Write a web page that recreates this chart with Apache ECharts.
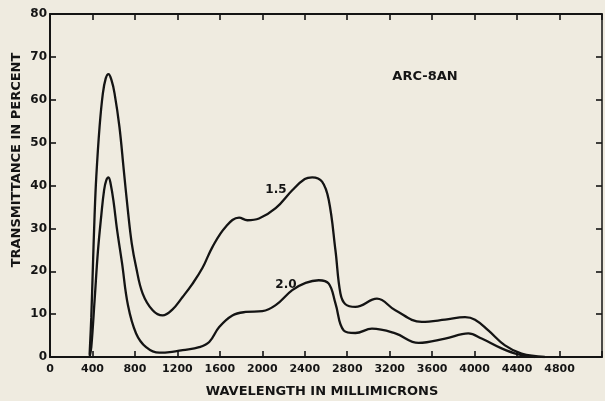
<!DOCTYPE html>
<html>
<head>
<meta charset="utf-8">
<script src="https://cdn.jsdelivr.net/npm/echarts@6/dist/echarts.min.js"></script>
<style>
html,body{margin:0;padding:0;background:#efebe0;}
#c{width:605px;height:401px;}
</style>
</head>
<body>
<div id="c"></div>
<script>
// Wavelength (millimicrons) vs transmittance (%) for ARC-8AN, two thicknesses
const curve15 = [
  [373,0.5],[389,9.3],[404,21],[420,33],[436,42],[467,53.7],[498,61.5],[525,65],[551,66],
  [580,64.5],[608,61.5],[654,53.7],[695,43.6],[733,34.3],[770,26.5],[811,21],[873,14.8],
  [967,10.9],[1061,9.7],[1150,11],[1249,14],[1340,17],[1437,20.8],[1531,25.7],[1656,30.4],
  [1781,32.5],[1859,31.9],[1969,32.3],[2126,34.7],[2282,38.9],[2400,41.5],[2470,41.9],
  [2563,40.9],[2626,36.6],[2689,24.9],[2736,14.8],[2783,12.3],[2877,11.7],[3080,13.6],
  [3253,10.9],[3502,8.2],[3722,8.7],[3910,9.3],[4004,8.7],[4129,6.2],[4286,2.7],[4442,0.8],[4661,0]
];
const curve20 = [
  [373,0],[389,2.3],[420,13.2],[451,24.5],[483,33],[510,39],[530,41.2],[551,41.9],
  [572,40.3],[600,36],[630,30],[678,22],[735,12],[811,5.5],[905,2.3],[1030,1],
  [1150,1.2],[1249,1.6],[1406,2.3],[1500,3.5],[1594,7],[1718,9.7],[1844,10.5],[2000,10.7],
  [2126,12.1],[2282,15.6],[2408,17.3],[2532,17.9],[2626,17.1],[2689,12.5],[2767,6.2],
  [2877,5.6],[3033,6.6],[3253,5.5],[3472,3.3],[3722,4.3],[3941,5.5],[4066,4.3],[4254,2],
  [4411,0.6],[4567,0]
];
const xTicks = [0,400,800,1200,1600,2000,2400,2800,3200,3600,4000,4400,4800];
const yTicks = [0,10,20,30,40,50,60,70,80];
const curveLabels = ['1.5','2.0'];
const title = 'ARC-8AN';
const xName = 'WAVELENGTH IN MILLIMICRONS';
const yName = 'TRANSMITTANCE IN PERCENT';

const ink = '#141414';
const font = 'DejaVu Sans';
const chart = echarts.init(document.getElementById('c'));
function ax(extra, lineW){
  return Object.assign({
    type:'value', splitLine:{show:false},
    axisLine:{onZero:false,lineStyle:{color:ink,width:lineW}},
    axisTick:{inside:true,length:6,lineStyle:{color:ink,width:1.6}}
  }, extra);
}
chart.setOption({
  backgroundColor:'#efebe0',
  animation:false,
  grid:{left:50,right:2,top:14,bottom:44},
  xAxis:[
    ax({position:'bottom',min:0,max:5200,interval:400,
      axisLabel:{color:ink,fontFamily:font,fontWeight:'bold',fontSize:11,margin:7,
        formatter:v=>xTicks.indexOf(v)>=0?String(v):''}}, 2),
    ax({position:'top',min:0,max:5200,interval:400,axisLabel:{show:false}}, 1.8)
  ],
  yAxis:[
    ax({position:'left',min:0,max:80,interval:10,
      axisLabel:{color:ink,fontFamily:font,fontWeight:'bold',fontSize:12,margin:3,
        formatter:v=>yTicks.indexOf(v)>=0?String(v):''}}, 2),
    ax({position:'right',min:0,max:80,interval:10,axisLabel:{show:false}}, 1.5)
  ],
  series:[
    {type:'line',data:curve15,showSymbol:false,smooth:0.4,
     lineStyle:{color:ink,width:2.3}},
    {type:'line',data:curve20,showSymbol:false,smooth:0.4,
     lineStyle:{color:ink,width:2.3}}
  ],
  graphic:[
    {type:'text',x:425,y:77,style:{text:title,fill:ink,font:'bold 13px "DejaVu Sans"',align:'center',verticalAlign:'middle'}},
    {type:'text',x:276,y:190,style:{text:curveLabels[0],fill:ink,font:'bold 12px "DejaVu Sans"',align:'center',verticalAlign:'middle'}},
    {type:'text',x:286,y:285,style:{text:curveLabels[1],fill:ink,font:'bold 12px "DejaVu Sans"',align:'center',verticalAlign:'middle'}},
    {type:'text',x:322,y:392,style:{text:xName,fill:ink,font:'bold 13px "DejaVu Sans"',align:'center',verticalAlign:'middle'}},
    {type:'text',x:17,y:160,rotation:Math.PI/2,style:{text:yName,fill:ink,font:'bold 13px "DejaVu Sans"',align:'center',verticalAlign:'middle'}}
  ]
});
</script>
</body>
</html>
